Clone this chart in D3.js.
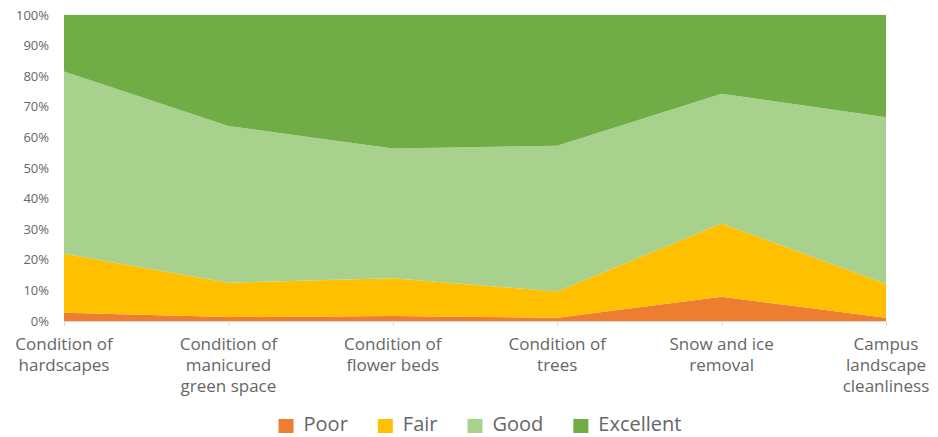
<!DOCTYPE html>
<html lang="en">
<head>
<meta charset="UTF-8">
<title>Grounds ratings</title>
<script src="https://cdn.jsdelivr.net/npm/d3@7/dist/d3.min.js"></script>
<style>
  body { margin: 0; background: #fff; }
  text { font-family: "Open Sans", sans-serif; fill: #666; }
</style>
</head>
<body>
<div id="chart"></div>
<script>
// categories and share of answers (percent)
const categories = [
  ["Condition of", "hardscapes"],
  ["Condition of", "manicured", "green space"],
  ["Condition of", "flower beds"],
  ["Condition of", "trees"],
  ["Snow and ice", "removal"],
  ["Campus", "landscape", "cleanliness"]
];
const seriesNames = ["Poor", "Fair", "Good", "Excellent"];
const poor      = [2.7, 1.3, 1.6, 1.1, 7.9, 1.1];
const fair      = [19.3, 11.2, 12.4, 8.5, 24.0, 11.0];
const good      = [59.5, 51.2, 42.4, 47.7, 42.4, 54.5];
const excellent = [18.5, 36.3, 43.6, 42.7, 25.7, 33.4];
const colors = ["#ED7D31", "#FFC000", "#A9D18E", "#70AD47"];
const yTicks = [0, 0.1, 0.2, 0.3, 0.4, 0.5, 0.6, 0.7, 0.8, 0.9, 1];

const width = 938, height = 437;
const margin = {left: 64, right: 52, top: 15, bottom: 116};

const rows = categories.map(function(c, i) {
  return {i: i, Poor: poor[i], Fair: fair[i], Good: good[i], Excellent: excellent[i]};
});

const stacked = d3.stack()
  .keys(seriesNames)
  .offset(d3.stackOffsetExpand)(rows);

const svg = d3.select('#chart').append('svg')
  .attr('width', width)
  .attr('height', height);

const x = d3.scalePoint()
  .domain(d3.range(categories.length))
  .range([margin.left, width - margin.right]);
const y = d3.scaleLinear()
  .domain([0, 1])
  .range([height - margin.bottom, margin.top]);

// gridlines
svg.append('g')
  .selectAll('line')
  .data(yTicks)
  .enter().append('line')
  .attr('x1', margin.left).attr('x2', width - margin.right)
  .attr('y1', d => y(d)).attr('y2', d => y(d))
  .attr('stroke', '#e6e6e6');

const area = d3.area()
  .x(d => x(d.data.i))
  .y0(d => y(d[0]))
  .y1(d => y(d[1]));

svg.append('g')
  .selectAll('path')
  .data(stacked)
  .enter().append('path')
  .attr('d', area)
  .attr('fill', (d, i) => colors[i]);

// y axis labels
const yAxis = svg.append('g')
  .attr('transform', 'translate(' + (margin.left - 15) + ',0)')
  .call(d3.axisLeft(y).tickValues(yTicks).tickFormat(d3.format('.0%')).tickSize(0).tickPadding(0));
yAxis.select('.domain').remove();
yAxis.selectAll('text').style('font-size', '13px').attr('fill', '#666');

// x axis
const xAxis = svg.append('g')
  .attr('transform', 'translate(0,' + y(0) + ')')
  .call(d3.axisBottom(x).tickSize(5).tickFormat(''));
xAxis.select('.domain').attr('stroke', '#d9d9d9');
xAxis.selectAll('.tick line').attr('stroke', '#d9d9d9');

const labels = svg.append('g')
  .selectAll('text')
  .data(categories)
  .enter().append('text')
  .attr('x', (d, i) => x(i))
  .attr('y', 350)
  .attr('text-anchor', 'middle')
  .style('font-size', '17px');
labels.selectAll('tspan')
  .data(d => d)
  .enter().append('tspan')
  .attr('x', function() { return d3.select(this.parentNode).attr('x'); })
  .attr('dy', (d, i) => i === 0 ? 0 : 21)
  .text(d => d);

// legend
const legend = svg.append('g');
let lx = 0;
seriesNames.forEach(function(name, i) {
  legend.append('rect')
    .attr('x', lx).attr('y', 419)
    .attr('width', 15).attr('height', 14)
    .attr('fill', colors[i]);
  const t = legend.append('text')
    .attr('x', lx + 25).attr('y', 431)
    .style('font-size', '20px')
    .text(name);
  lx += 25 + t.node().getComputedTextLength() + 30;
});
const lw = lx - 30;
legend.attr('transform', 'translate(' + (480 - lw / 2) + ',0)');
</script>
</body>
</html>
